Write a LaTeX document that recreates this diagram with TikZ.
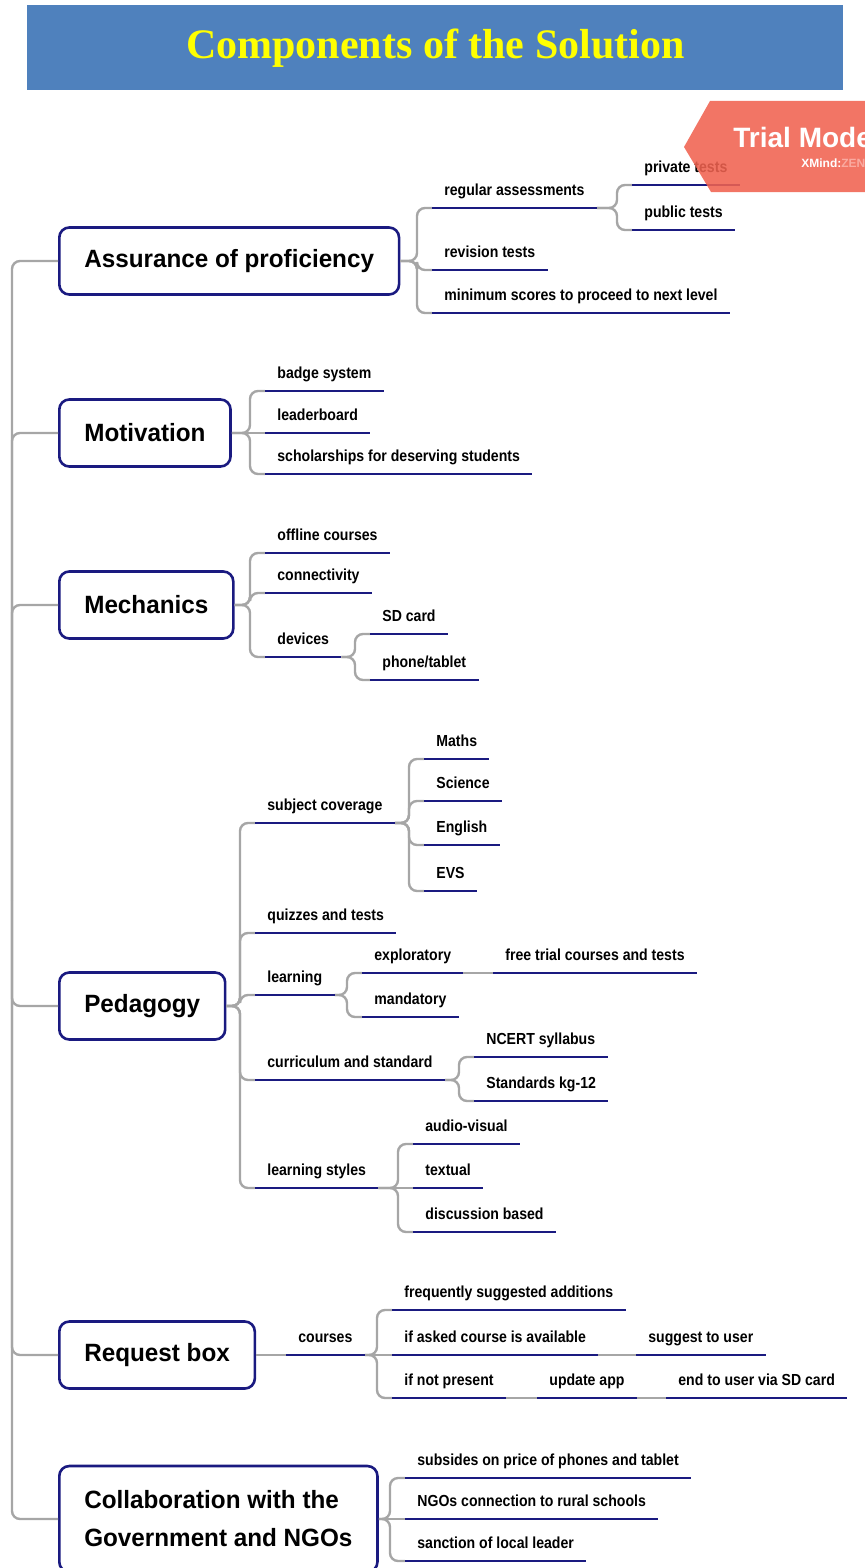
\documentclass[tikz,border=0pt]{standalone}
\usepackage{fontspec}
\setmainfont{Liberation Sans}
\newfontfamily\cond{Liberation Sans}[FakeStretch=0.88]
\newfontfamily\mainf{Liberation Sans}[FakeStretch=0.97]
\newfontfamily\ttlfont{Liberation Serif}
\usetikzlibrary{calc}
\definecolor{navy}{RGB}{26,26,128}
\definecolor{conngray}{RGB}{166,166,166}
\definecolor{barblue}{RGB}{79,129,189}
\definecolor{trialred}{RGB}{240,98,80}
\definecolor{ttlyellow}{RGB}{255,255,0}
\definecolor{zenpink}{RGB}{250,170,160}
\newcommand\brconn[2]{\draw[conn] (#1.south east) -| ([xshift=-7.5pt]#2.south west) -- (#2.south west);}
\newcommand\mbrconn[2]{\draw[conn] (#1.east) -| ([xshift=-7.5pt]#2.south west) -- (#2.south west);}
\newcommand\stconn[2]{\draw[conn] (#1.south east) -- (#2.south west);}
\newcommand\mstconn[2]{\draw[conn] (#1.east) -- (#2.south west);}
\begin{document}
\begin{tikzpicture}[x=0.5pt,y=-0.5pt,
  mainbox/.style={draw=navy, line width=1.3pt, rounded corners=5pt, fill=white,
    inner xsep=12.5pt, minimum height=33.5pt, anchor=west, align=left,
    font=\mainf\bfseries\fontsize{12.5}{19}\selectfont},
  lbl/.style={anchor=south west, inner xsep=6pt, inner ysep=6pt, text height=6pt,
    text depth=0pt, font=\cond\bfseries\fontsize{8}{9.6}\selectfont},
  conn/.style={draw=conngray, line width=1.2pt, rounded corners=4pt},
  uline/.style={draw=navy, line width=1.3pt}]
\useasboundingbox (0,0) rectangle (865,1568);

% title
\node (title) [fill=barblue, minimum width=408pt, minimum height=42.5pt, inner sep=0pt,
  anchor=north west, text=ttlyellow, font=\ttlfont\bfseries\fontsize{21}{25}\selectfont]
  at (27,5) {Components of the Solution};

% main nodes
\node (A) [mainbox] at (58,261) {Assurance of proficiency};
\node (B) [mainbox] at (58,433) {Motivation};
\node (C) [mainbox] at (58,605) {Mechanics};
\node (D) [mainbox] at (58,1006) {Pedagogy};
\node (E) [mainbox] at (58,1355) {Request box};
\node (F) [mainbox, minimum height=53pt] at (58,1519) {Collaboration with the\\Government and NGOs};

% trunk
\coordinate (trunk) at (12,900);
\draw[conn] (A.west) -| (trunk) |- (F.west);
\foreach \m in {B,C,D,E} {\draw[conn] (\m.west) -| (trunk);}

% Assurance
\node (a1) [lbl] at (432,208) {regular assessments};
\node (a11) [lbl] at (632,185) {private tests};
\node (a12) [lbl] at (632,230) {public tests};
\node (a2) [lbl] at (432,270) {revision tests};
\node (a3) [lbl] at (432,313) {minimum scores to proceed to next level};
\foreach \c in {a1,a2,a3} {\mbrconn{A}{\c}}
\foreach \c in {a11,a12} {\brconn{a1}{\c}}

% Motivation
\node (b1) [lbl] at (265,391) {badge system};
\node (b2) [lbl] at (265,433) {leaderboard};
\node (b3) [lbl] at (265,474) {scholarships for deserving students};
\foreach \c in {b1,b3} {\mbrconn{B}{\c}}
\mstconn{B}{b2}

% Mechanics
\node (c1) [lbl] at (265,553) {offline courses};
\node (c2) [lbl] at (265,593) {connectivity};
\node (c3) [lbl] at (265,657) {devices};
\node (c31) [lbl] at (370,634) {SD card};
\node (c32) [lbl] at (370,680) {phone/tablet};
\foreach \c in {c1,c2,c3} {\mbrconn{C}{\c}}
\foreach \c in {c31,c32} {\brconn{c3}{\c}}

% Pedagogy
\node (d1) [lbl] at (255,823) {subject coverage};
\node (d11) [lbl] at (424,759) {Maths};
\node (d12) [lbl] at (424,801) {Science};
\node (d13) [lbl] at (424,845) {English};
\node (d14) [lbl] at (424,891) {EVS};
\node (d2) [lbl] at (255,933) {quizzes and tests};
\node (d3) [lbl] at (255,995) {learning};
\node (d31) [lbl] at (362,973) {exploratory};
\node (d311) [lbl] at (493,973) {free trial courses and tests};
\node (d32) [lbl] at (362,1017) {mandatory};
\node (d4) [lbl] at (255,1080) {curriculum and standard};
\node (d41) [lbl] at (474,1057) {NCERT syllabus};
\node (d42) [lbl] at (474,1101) {Standards kg-12};
\node (d5) [lbl] at (255,1188) {learning styles};
\node (d51) [lbl] at (413,1144) {audio-visual};
\node (d52) [lbl] at (413,1188) {textual};
\node (d53) [lbl] at (413,1232) {discussion based};
\foreach \c in {d1,d2,d3,d4,d5} {\mbrconn{D}{\c}}
\foreach \c in {d11,d12,d13,d14} {\brconn{d1}{\c}}
\foreach \c in {d31,d32} {\brconn{d3}{\c}}
\stconn{d31}{d311}
\foreach \c in {d41,d42} {\brconn{d4}{\c}}
\foreach \c in {d51,d53} {\brconn{d5}{\c}}
\stconn{d5}{d52}

% Request box
\node (e1) [lbl] at (286,1355) {courses};
\node (e11) [lbl] at (392,1310) {frequently suggested additions};
\node (e12) [lbl] at (392,1355) {if asked course is available};
\node (e121) [lbl] at (636,1355) {suggest to user};
\node (e13) [lbl] at (392,1398) {if not present};
\node (e131) [lbl] at (537,1398) {update app};
\node (e1311) [lbl] at (666,1398) {end to user via SD card};
\mstconn{E}{e1}
\foreach \c in {e11,e13} {\brconn{e1}{\c}}
\stconn{e1}{e12}
\stconn{e12}{e121}
\stconn{e13}{e131}
\stconn{e131}{e1311}

% Collaboration
\node (f1) [lbl] at (405,1478) {subsides on price of phones and tablet};
\node (f2) [lbl] at (405,1519) {NGOs connection to rural schools};
\node (f3) [lbl] at (405,1561) {sanction of local leader};
\foreach \c in {f1,f3} {\mbrconn{F}{\c}}
\mstconn{F}{f2}

% underlines
\foreach \n in {a1,a11,a12,a2,a3,b1,b2,b3,c1,c2,c3,c31,c32,d1,d11,d12,d13,d14,d2,d3,d31,d311,d32,d4,d41,d42,d5,d51,d52,d53,e1,e11,e12,e121,e13,e131,e1311,f1,f2,f3}
  {\draw[uline] (\n.south west) -- (\n.south east);}

% trial watermark
\fill[trialred, fill opacity=0.88] (684,147) -- (710,101) -- (870,101) -- (870,192) -- (711,192) -- cycle;
\node (trial) [anchor=base west, inner sep=0pt, text=white, font=\bfseries\fontsize{14}{16}\selectfont] at (733,148) {Trial Mode};
\node (xmind) [anchor=base west, inner sep=0pt, text=white, font=\bfseries\fontsize{6}{7}\selectfont] at (801,168) {XMind:\textcolor{zenpink}{ZEN}};
\end{tikzpicture}
\end{document}
